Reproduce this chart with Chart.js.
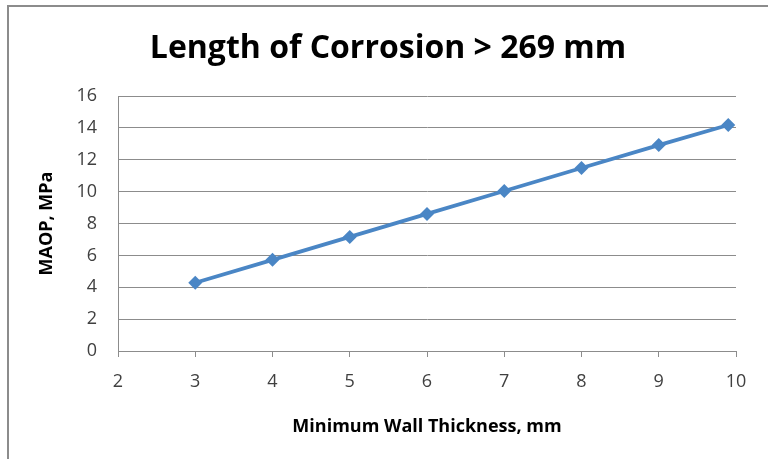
<!DOCTYPE html>
<html>
<head>
<meta charset="utf-8">
<script src="https://cdn.jsdelivr.net/npm/chart.js@4"></script>
<style>
  html, body { margin: 0; padding: 0; background: #fff; }
  #wrap { position: relative; width: 768px; height: 459px; overflow: hidden; }
  #frame { position: absolute; left: 7px; top: 5px; width: 800px; height: 500px;
           border-left: 2px solid #8c8c8c; border-top: 2px solid #8c8c8c; box-sizing: border-box; }
  canvas { position: absolute; left: 0; top: 0; }
</style>
</head>
<body>
<div id="wrap">
  <div id="frame"></div>
  <canvas id="c" width="768" height="459"></canvas>
</div>
<script>
const titleText = 'Length of Corrosion > 269 mm';
const xTitle = 'Minimum Wall Thickness, mm';
const yTitle = 'MAOP, MPa';
const wallThickness = [3, 4, 5, 6, 7, 8, 9, 9.9];
const maop = [4.28, 5.72, 7.16, 8.6, 10.04, 11.48, 12.92, 14.18];
const xMin = 2, xMax = 10, xStep = 1;
const yMin = 0, yMax = 16, yStep = 2;

const fontFam = '"Open Sans", Lato, sans-serif';
new Chart(document.getElementById('c'), {
  type: 'scatter',
  data: {
    datasets: [{
      data: wallThickness.map((x, i) => ({ x: x, y: maop[i] })),
      showLine: true,
      borderColor: '#4a86c5',
      backgroundColor: '#4a86c5',
      borderWidth: 3.8,
      pointStyle: 'rectRot',
      pointRadius: 7,
      pointHoverRadius: 7,
      pointBorderWidth: 0
    }]
  },
  options: {
    responsive: false,
    animation: false,
    layout: { padding: { left: 20, right: 12, top: 0, bottom: 0 } },
    plugins: {
      legend: { display: false },
      tooltip: { enabled: false },
      title: {
        display: true,
        text: titleText,
        color: '#000',
        font: { family: fontFam, size: 32, weight: 'bold', lineHeight: 1.2 },
        padding: { top: 30, bottom: 27.6 }
      }
    },
    scales: {
      x: {
        type: 'linear',
        min: xMin, max: xMax,
        afterFit: s => { s.height = 108; },
        ticks: { stepSize: xStep, color: '#404040', padding: 14,
                 font: { family: fontFam, size: 18 }, maxRotation: 0 },
        grid: { drawOnChartArea: false, drawTicks: true, tickLength: 6, color: '#8c8c8c', lineWidth: 1 },
        border: { display: true, color: '#8c8c8c', width: 1 },
        title: { display: true, text: xTitle, color: '#000',
                 font: { family: fontFam, size: 18, weight: 'bold', lineHeight: 1.2 },
                 padding: { top: 0, bottom: 21 } }
      },
      y: {
        type: 'linear',
        position: 'left',
        min: yMin, max: yMax,
        afterFit: s => { s.width = 98; },
        ticks: { stepSize: yStep, color: '#404040', padding: 21,
                 font: { family: fontFam, size: 18 } },
        grid: { drawTicks: false, tickLength: 0, color: '#8c8c8c', lineWidth: 1 },
        border: { display: true, color: '#8c8c8c', width: 1 },
        title: { display: true, text: yTitle, color: '#000',
                 font: { family: fontFam, size: 18, weight: 'bold', lineHeight: 1.2 },
                 padding: { top: 16, bottom: 0 } }
      },
      yRight: {
        type: 'linear',
        position: 'right',
        display: true,
        min: yMin, max: yMax,
        afterFit: s => { s.width = 20; },
        ticks: { display: false },
        grid: { display: false, drawOnChartArea: false },
        border: { display: false }
      }
    }
  }
});
</script>
</body>
</html>
